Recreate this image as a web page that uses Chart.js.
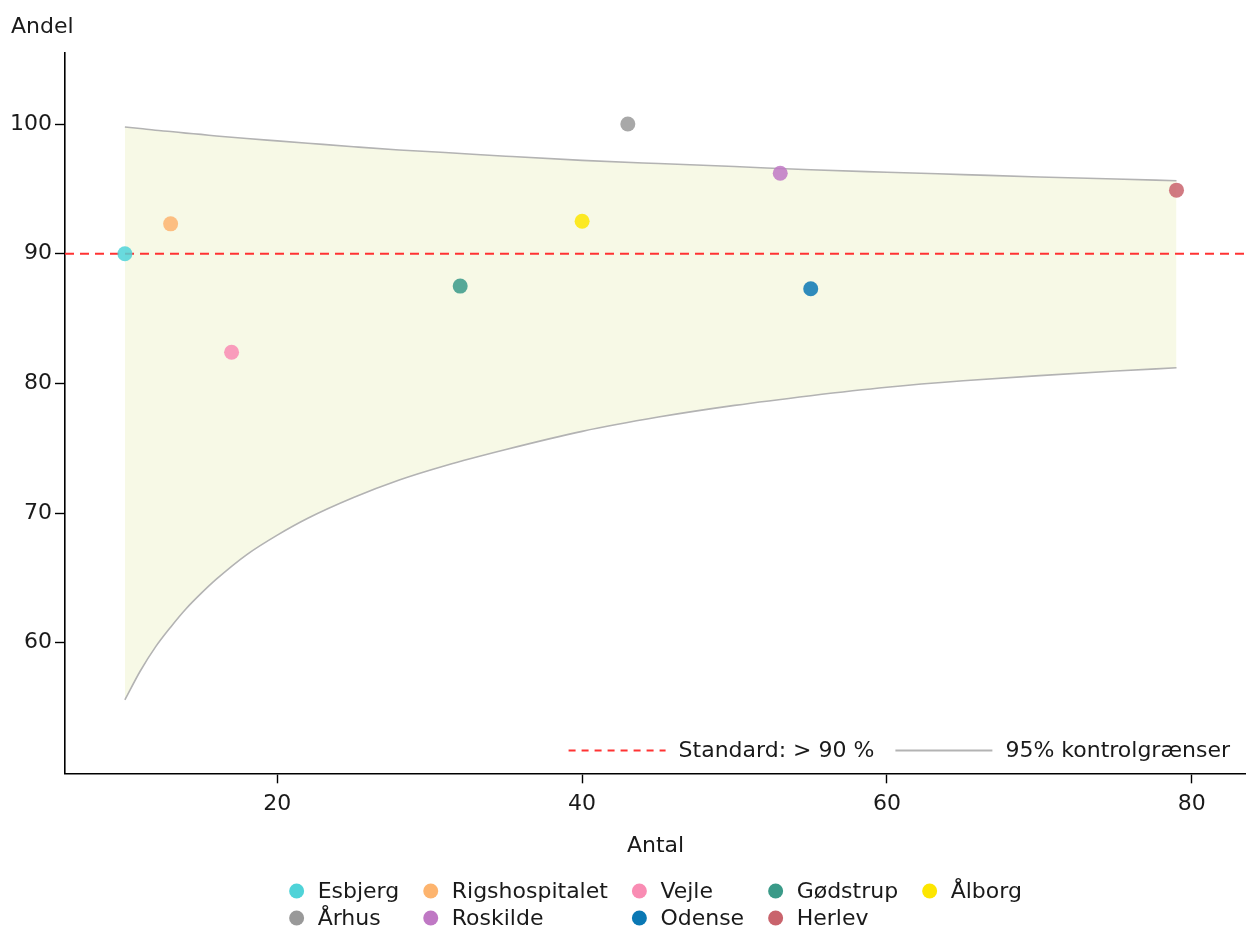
<!DOCTYPE html>
<html>
<head>
<meta charset="utf-8">
<script src="https://cdn.jsdelivr.net/npm/chart.js@4/dist/chart.umd.min.js"></script>
<style>
  html, body { margin: 0; padding: 0; background: #ffffff; overflow: hidden; }
  #wrap { width: 1246px; height: 929px; }
  canvas { display: block; }
</style>
</head>
<body>
<div id="wrap"><canvas id="funnel" width="1246" height="929"></canvas></div>
<script>
// Hospitals: number of cases (Antal) and share meeting the standard (Andel, %)
const hospitals = ['Esbjerg', 'Rigshospitalet', 'Vejle', 'Gødstrup', 'Ålborg', 'Århus', 'Roskilde', 'Odense', 'Herlev'];
const antal = [10, 13, 17, 32, 40, 43, 53, 55, 79];
const andel = [90.0, 92.3, 82.4, 87.5, 92.5, 100.0, 96.2, 87.3, 94.9];
const hospitalColors = ['#4fd3d8', '#fdb46e', '#f98cb3', '#3a9a88', '#fde600', '#999999', '#bf78c4', '#0a78b4', '#c9636c'];

// 95% control limits along the number of cases
const limitN = [10, 11, 12, 13, 14, 15, 16, 18, 20, 22, 25, 28, 31, 35, 40, 45, 50, 55, 60, 65, 70, 75, 79];
const upperLimit = [99.77, 99.65, 99.52, 99.42, 99.3, 99.2, 99.08, 98.88, 98.7, 98.52, 98.25, 98.0, 97.8, 97.52, 97.2, 96.95, 96.72, 96.47, 96.28, 96.1, 95.92, 95.76, 95.63];
const lowerLimit = [55.6, 57.8, 59.66, 61.2, 62.6, 63.8, 64.9, 66.8, 68.3, 69.6, 71.2, 72.55, 73.65, 74.9, 76.3, 77.4, 78.3, 79.05, 79.7, 80.2, 80.6, 80.95, 81.2];

// Standard: more than 90 %
const standard = 90;

// Axis ranges and tick values
const xMin = 6.07, xMax = 83.56;
const yMin = 49.93, yMax = 105.5;
const xTicks = [20, 40, 60, 80];
const yTicks = [60, 70, 80, 90, 100];

const FONT = 'DejaVu Sans';
const TEXT = '#1a1a1a';
const LIMIT_COLOR = '#b3b3b3';
const STANDARD_COLOR = '#ff3333';

function withAlpha(hex, a) {
  const n = parseInt(hex.slice(1), 16);
  return `rgba(${(n >> 16) & 255}, ${(n >> 8) & 255}, ${n & 255}, ${a})`;
}

// Texts, axis titles and both legends drawn on top of the chart
const decorations = {
  id: 'decorations',
  afterDraw(chart) {
    const ctx = chart.ctx;
    const area = chart.chartArea;
    ctx.save();
    ctx.fillStyle = TEXT;
    ctx.font = `22px "${FONT}"`;

    // y axis title above the axis, x axis title centred below
    ctx.textAlign = 'left';
    ctx.textBaseline = 'alphabetic';
    ctx.fillText('Andel', 11, 33.3);
    ctx.textAlign = 'center';
    ctx.fillText('Antal', (area.left + area.right) / 2, 852);

    // Legend inside the plot, lower right
    ctx.textBaseline = 'middle';
    ctx.textAlign = 'left';
    const ly = 750.5;
    const sampleLen = 97, sampleGap = 13, itemGap = 21;
    const t1 = 'Standard: > 90 %', t2 = '95% kontrolgrænser';
    const w1 = ctx.measureText(t1).width, w2 = ctx.measureText(t2).width;
    const x2text = area.right - 16 - w2;
    const x2line = x2text - sampleGap - sampleLen;
    const x1text = x2line - itemGap - w1;
    const x1line = x1text - sampleGap - sampleLen;
    ctx.lineWidth = 2;
    ctx.strokeStyle = STANDARD_COLOR;
    ctx.setLineDash([7, 6]);
    ctx.beginPath(); ctx.moveTo(x1line, ly); ctx.lineTo(x1line + sampleLen, ly); ctx.stroke();
    ctx.setLineDash([]);
    ctx.strokeStyle = LIMIT_COLOR;
    ctx.beginPath(); ctx.moveTo(x2line, ly); ctx.lineTo(x2line + sampleLen, ly); ctx.stroke();
    ctx.fillText(t1, x1text, ly + 1);
    ctx.fillText(t2, x2text, ly + 1);

    // Hospital legend below the axis: five columns, filled row by row
    const cols = 5, r = 7.5, dotToText = 21, colGap = 24;
    const rowsY = [891, 918];
    const colW = new Array(cols).fill(0);
    hospitals.forEach((h, i) => {
      colW[i % cols] = Math.max(colW[i % cols], ctx.measureText(h).width);
    });
    const colSpan = colW.map(w => (r + dotToText) + w);
    const total = colSpan.reduce((a, b) => a + b, 0) + colGap * (cols - 1);
    const colX = [];
    let cx = (area.left + area.right) / 2 - total / 2;
    for (let c = 0; c < cols; c++) { colX.push(cx); cx += colSpan[c] + colGap; }
    hospitals.forEach((h, i) => {
      const c = i % cols, row = Math.floor(i / cols);
      const dotX = colX[c] + r, y = rowsY[row];
      ctx.fillStyle = hospitalColors[i];
      ctx.beginPath(); ctx.arc(dotX, y, r, 0, Math.PI * 2); ctx.fill();
      ctx.fillStyle = TEXT;
      ctx.fillText(h, dotX + dotToText, y + 1);
    });
    ctx.restore();
  }
};

const axisCommon = {
  type: 'linear',
  ticks: { color: TEXT, font: { family: FONT, size: 22 }, autoSkip: false, maxRotation: 0 },
  grid: { drawOnChartArea: false, drawTicks: true, tickLength: 10, tickColor: '#000', tickWidth: 1.4 },
  border: { display: true, color: '#000', width: 1.6 }
};

new Chart(document.getElementById('funnel'), {
  type: 'line',
  data: {
    datasets: [
      {
        type: 'scatter',
        label: 'Sygehuse',
        data: antal.map((n, i) => ({ x: n, y: andel[i] })),
        pointRadius: 7.5,
        pointBorderWidth: 0,
        pointBackgroundColor: hospitalColors.map(c => withAlpha(c, 0.85)),
        showLine: false,
        order: 0
      },
      {
        label: 'Standard: > 90 %',
        data: [{ x: xMin, y: standard }, { x: xMax, y: standard }],
        borderColor: STANDARD_COLOR,
        borderWidth: 2,
        borderDash: [9, 6],
        pointRadius: 0,
        fill: false,
        order: 1
      },
      {
        label: 'Nedre kontrolgrænse',
        data: limitN.map((n, i) => ({ x: n, y: lowerLimit[i] })),
        borderColor: LIMIT_COLOR,
        borderWidth: 1.6,
        pointRadius: 0,
        cubicInterpolationMode: 'monotone',
        fill: false,
        order: 2
      },
      {
        label: '95% kontrolgrænser',
        data: limitN.map((n, i) => ({ x: n, y: upperLimit[i] })),
        borderColor: LIMIT_COLOR,
        borderWidth: 1.6,
        pointRadius: 0,
        cubicInterpolationMode: 'monotone',
        fill: { target: '-1' },
        backgroundColor: '#f7f9e6',
        order: 3
      }
    ]
  },
  options: {
    responsive: false,
    devicePixelRatio: 1,
    animation: false,
    events: [],
    layout: { autoPadding: false, padding: { top: 52.7, left: 0, right: 0, bottom: 0 } },
    plugins: { legend: { display: false }, tooltip: { enabled: false } },
    scales: {
      x: Object.assign({}, axisCommon, {
        min: xMin, max: xMax,
        ticks: Object.assign({}, axisCommon.ticks, { padding: 8 }),
        afterBuildTicks: s => { s.ticks = xTicks.map(v => ({ value: v })); },
        afterFit: s => { s.height = 929 - 773.3; s.paddingLeft = 0; s.paddingRight = 0; }
      }),
      y: Object.assign({}, axisCommon, {
        min: yMin, max: yMax,
        ticks: Object.assign({}, axisCommon.ticks, { padding: 3 }),
        afterBuildTicks: s => { s.ticks = yTicks.map(v => ({ value: v })); },
        afterFit: s => { s.width = 65; s.paddingTop = 0; s.paddingBottom = 0; }
      })
    }
  },
  plugins: [decorations]
});
</script>
</body>
</html>
